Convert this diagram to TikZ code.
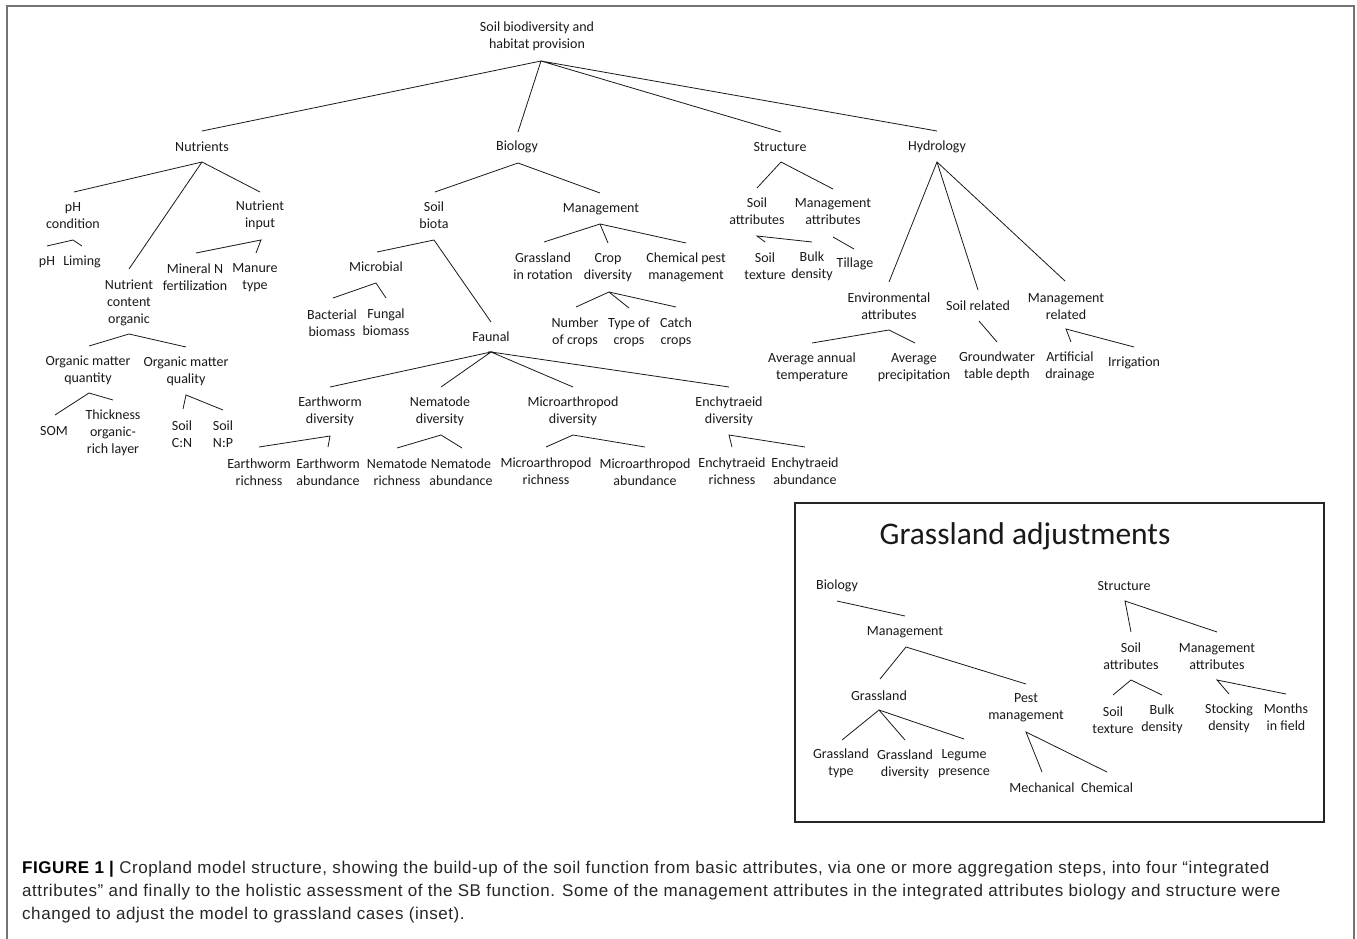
\documentclass[tikz,border=0pt]{standalone}
\usepackage{fontspec}
\setmainfont{Liberation Sans}
\newfontfamily\carlito{Carlito}
\newfontfamily\capfam{Liberation Sans}[LetterSpace=3.3]
\newcommand\lblfont{\carlito\fontsize{14}{17}\selectfont}
\newcommand\ttlfont{\carlito\fontsize{31.5}{36}\selectfont}
\newcommand\capfont{\capfam\fontsize{17}{23}\selectfont}
\tikzset{
  lbl/.style={font=\lblfont, align=center, inner sep=0pt, text=black!90},
  edge/.style={line width=0.8pt, black!90},
  capline/.style={font=\capfont, anchor=base west, inner sep=0pt, text=black!85}
}
\begin{document}
\begin{tikzpicture}[x=1pt,y=-1pt]
\useasboundingbox (0,0) rectangle (1357,939);
% outer frame
\draw[line width=1.5pt, black!55] (7,939) -- (7,6) -- (1354,6) -- (1354,939);

% ---------- level 0/1 ----------
\node[lbl] (root) at (537,36.5) {Soil biodiversity and\\habitat provision};
\coordinate (rootB) at (541,61);
\node[lbl] (nut) at (202,147) {Nutrients};
\node[lbl] (bio) at (517,147) {Biology};
\node[lbl] (str) at (780,147) {Structure};
\node[lbl] (hyd) at (937,147) {Hydrology};
\coordinate (nutT) at (202,131); \coordinate (nutB) at (202,162);
\coordinate (bioT) at (518,132); \coordinate (bioB) at (518,163);
\coordinate (strT) at (781,132); \coordinate (strB) at (781,162);
\coordinate (hydT) at (937,131); \coordinate (hydB) at (937,162);
\draw[edge] (nutT) -- (rootB) -- (bioT);
\draw[edge] (strT) -- (rootB) -- (hydT);

% ---------- Nutrients ----------
\node[lbl] (phc) at (73,215.5) {pH\\condition};
\node[lbl] (nin) at (260,215.5) {Nutrient\\input};
\node[lbl] (nco) at (129,302.5) {Nutrient\\content\\organic};
\coordinate (phcT) at (74,192); \coordinate (phcB) at (73,240);
\coordinate (ninT) at (260,192); \coordinate (ninB) at (261,240);
\coordinate (ncoT) at (129,269); \coordinate (ncoB) at (129,334);
\draw[edge] (phcT) -- (nutB) -- (ninT);
\draw[edge] (nutB) -- (ncoT);

\node[lbl] (ph) at (47,262) {pH};
\node[lbl] (lim) at (82,262) {Liming};
\coordinate (phT) at (47,246); \coordinate (limT) at (82,246);
\draw[edge] (phT) -- (phcB) -- (limT);

\node[lbl] (mnf) at (195,277.5) {Mineral N\\fertilization};
\node[lbl] (mty) at (255,277.5) {Manure\\type};
\coordinate (mnfT) at (196,253); \coordinate (mtyT) at (256,253);
\draw[edge] (mnfT) -- (ninB) -- (mtyT);

\node[lbl] (omn) at (88,370.5) {Organic matter\\quantity};
\node[lbl] (oml) at (186,371) {Organic matter\\quality};
\coordinate (omnT) at (89,346); \coordinate (omnB) at (89,393);
\coordinate (omlT) at (186,347); \coordinate (omlB) at (186,395);
\draw[edge] (omnT) -- (ncoB) -- (omlT);

\node[lbl] (som) at (54,431) {SOM};
\node[lbl] (thk) at (113,433) {Thickness\\organic-\\rich layer};
\coordinate (somT) at (55,415); \coordinate (thkT) at (113,400);
\draw[edge] (somT) -- (omnB) -- (thkT);

\node[lbl] (scn) at (182,434.5) {Soil\\C:N};
\node[lbl] (snp) at (223,434.5) {Soil\\N:P};
\coordinate (scnT) at (183,409); \coordinate (snpT) at (223,410);
\draw[edge] (scnT) -- (omlB) -- (snpT);

% ---------- Biology ----------
\node[lbl] (sbt) at (434,215.5) {Soil\\biota};
\node[lbl] (mgt) at (601,209) {Management};
\coordinate (sbtT) at (435,192); \coordinate (sbtB) at (434,240);
\coordinate (mgtT) at (600,193); \coordinate (mgtB) at (600,224);
\draw[edge] (sbtT) -- (bioB) -- (mgtT);

\node[lbl] (mic) at (376,267) {Microbial};
\node[lbl] (fau) at (491,337) {Faunal};
\coordinate (micT) at (377,252); \coordinate (micB) at (376,283);
\coordinate (fauT) at (491,322); \coordinate (fauB) at (491,352);
\draw[edge] (micT) -- (sbtB) -- (fauT);

\node[lbl] (bac) at (332,323.5) {Bacterial\\biomass};
\node[lbl] (fun) at (386,322.5) {Fungal\\biomass};
\coordinate (bacT) at (333,298); \coordinate (funT) at (386,298);
\draw[edge] (bacT) -- (micB) -- (funT);

\node[lbl] (ewd) at (330,411.5) {Earthworm\\diversity};
\node[lbl] (ned) at (440,411.5) {Nematode\\diversity};
\node[lbl] (mad) at (573,411.5) {Microarthropod\\diversity};
\node[lbl] (ecd) at (729,411.5) {Enchytraeid\\diversity};
\coordinate (ewdT) at (330,387); \coordinate (ewdB) at (330,436);
\coordinate (nedT) at (441,387); \coordinate (nedB) at (441,435);
\coordinate (madT) at (573,387); \coordinate (madB) at (573,435);
\coordinate (ecdT) at (729,387); \coordinate (ecdB) at (729,435);
\draw[edge] (ewdT) -- (fauB) -- (nedT);
\draw[edge] (madT) -- (fauB) -- (ecdT);

\node[lbl] (ewr) at (259,472.5) {Earthworm\\richness};
\node[lbl] (ewa) at (328,472.5) {Earthworm\\abundance};
\coordinate (ewrT) at (259,447); \coordinate (ewaT) at (328,447);
\draw[edge] (ewrT) -- (ewdB) -- (ewaT);

\node[lbl] (ner) at (397,472.5) {Nematode\\richness};
\node[lbl] (nea) at (461,472.5) {Nematode\\abundance};
\coordinate (nerT) at (397,448); \coordinate (neaT) at (462,448);
\draw[edge] (nerT) -- (nedB) -- (neaT);

\node[lbl] (mar) at (546,471.5) {Microarthropod\\richness};
\node[lbl] (maa) at (645,472) {Microarthropod\\abundance};
\coordinate (marT) at (546,447); \coordinate (maaT) at (645,447);
\draw[edge] (marT) -- (madB) -- (maaT);

\node[lbl] (ecr) at (732,471.5) {Enchytraeid\\richness};
\node[lbl] (eca) at (805,471.5) {Enchytraeid\\abundance};
\coordinate (ecrT) at (732,447); \coordinate (ecaT) at (805,447);
\draw[edge] (ecrT) -- (ecdB) -- (ecaT);

\node[lbl] (gir) at (543,266.5) {Grassland\\in rotation};
\node[lbl] (cdv) at (608,268) {Crop\\diversity};
\node[lbl] (cpm) at (686,267.5) {Chemical pest\\management};
\coordinate (girT) at (544,242); \coordinate (cdvT) at (608,243);
\coordinate (cpmT) at (686,243); \coordinate (cdvB) at (609,292);
\draw[edge] (girT) -- (mgtB) -- (cpmT);
\draw[edge] (mgtB) -- (cdvT);

\node[lbl] (noc) at (575,332.5) {Number\\of crops};
\node[lbl] (toc) at (629,332.5) {Type of\\crops};
\node[lbl] (cat) at (676,332.5) {Catch\\crops};
\coordinate (nocT) at (576,307); \coordinate (tocT) at (629,308);
\coordinate (catT) at (676,307);
\draw[edge] (nocT) -- (cdvB) -- (catT);
\draw[edge] (cdvB) -- (tocT);

% ---------- Structure ----------
\node[lbl] (sat) at (757,211.5) {Soil\\attributes};
\node[lbl] (mat) at (833,211.5) {Management\\attributes};
\coordinate (satT) at (757,188); \coordinate (satB) at (757,236);
\coordinate (matT) at (833,189); \coordinate (matB) at (833,237);
\draw[edge] (satT) -- (strB) -- (matT);

\node[lbl] (stx) at (765,266.5) {Soil\\texture};
\node[lbl] (bdn) at (812,266.5) {Bulk\\density};
\node[lbl] (til) at (855,264) {Tillage};
\coordinate (stxT) at (765,242); \coordinate (bdnT) at (812,242);
\coordinate (tilT) at (854,249);
\draw[edge] (stxT) -- (satB) -- (bdnT);
\draw[edge] (matB) -- (tilT);

% ---------- Hydrology ----------
\node[lbl] (env) at (889,306.5) {Environmental\\attributes};
\node[lbl] (srl) at (978,306) {Soil related};
\node[lbl] (mrl) at (1066,306.5) {Management\\related};
\coordinate (envT) at (889,282); \coordinate (envB) at (889,330);
\coordinate (srlT) at (978,290); \coordinate (srlB) at (979,321);
\coordinate (mrlT) at (1065,281); \coordinate (mrlB) at (1066,329);
\draw[edge] (envT) -- (hydB) -- (mrlT);
\draw[edge] (hydB) -- (srlT);

\node[lbl] (aat) at (812,367.5) {Average annual\\temperature};
\node[lbl] (apr) at (914,367.5) {Average\\precipitation};
\coordinate (aatT) at (812,343); \coordinate (aprT) at (915,343);
\draw[edge] (aatT) -- (envB) -- (aprT);

\node[lbl] (gwt) at (997,366.5) {Groundwater\\table depth};
\coordinate (gwtT) at (997,342);
\draw[edge] (srlB) -- (gwtT);

\node[lbl] (adr) at (1070,366.5) {Artificial\\drainage};
\node[lbl] (irr) at (1134,363) {Irrigation};
\coordinate (adrT) at (1071,342); \coordinate (irrT) at (1134,347);
\draw[edge] (adrT) -- (mrlB) -- (irrT);

% ---------- Inset ----------
\draw[line width=1.2pt, black!85] (795,503) rectangle (1324,822);
\node[font=\ttlfont, inner sep=0pt, text=black!90] (ttl) at (1025,536) {Grassland adjustments};

\node[lbl] (ibio) at (837,586) {Biology};
\node[lbl] (imgt) at (905,632) {Management};
\coordinate (ibioB) at (837,601); \coordinate (imgtT) at (905,616);
\coordinate (imgtB) at (906,647);
\draw[edge] (ibioB) -- (imgtT);

\node[lbl] (igr) at (879,696) {Grassland};
\node[lbl] (ipm) at (1026,707.5) {Pest\\management};
\coordinate (igrT) at (880,679); \coordinate (igrB) at (879,710);
\coordinate (ipmT) at (1026,684); \coordinate (ipmB) at (1026,732);
\draw[edge] (igrT) -- (imgtB) -- (ipmT);

\node[lbl] (igt) at (841,763.5) {Grassland\\type};
\node[lbl] (igd) at (905,764) {Grassland\\diversity};
\node[lbl] (ilp) at (964,763.5) {Legume\\presence};
\coordinate (igtT) at (842,740); \coordinate (igdT) at (905,740);
\coordinate (ilpT) at (964,739);
\draw[edge] (igtT) -- (igrB) -- (ilpT);
\draw[edge] (igrB) -- (igdT);

\node[lbl] (imech) at (1042,788) {Mechanical};
\node[lbl] (ichem) at (1107,788) {Chemical};
\coordinate (imechT) at (1042,772); \coordinate (ichemT) at (1107,772);
\draw[edge] (imechT) -- (ipmB) -- (ichemT);

\node[lbl] (istr) at (1124,586) {Structure};
\coordinate (istrB) at (1125,601);
\node[lbl] (isat) at (1131,656.5) {Soil\\attributes};
\node[lbl] (imat) at (1217,656.5) {Management\\attributes};
\coordinate (isatT) at (1131,632); \coordinate (isatB) at (1131,680);
\coordinate (imatT) at (1217,632); \coordinate (imatB) at (1217,680);
\draw[edge] (isatT) -- (istrB) -- (imatT);

\node[lbl] (istx) at (1113,720.5) {Soil\\texture};
\node[lbl] (ibdn) at (1162,719.5) {Bulk\\density};
\coordinate (istxT) at (1113,695); \coordinate (ibdnT) at (1162,695);
\draw[edge] (istxT) -- (isatB) -- (ibdnT);

\node[lbl] (istk) at (1229,718) {Stocking\\density};
\node[lbl] (imon) at (1286,717.5) {Months\\in field};
\coordinate (istkT) at (1229,694); \coordinate (imonT) at (1286,694);
\draw[edge] (istkT) -- (imatB) -- (imonT);

% ---------- Caption ----------
\node[capline] (cap1) at (22,873) {\textbf{\color{black}FIGURE 1 |} Cropland model structure, showing the build-up of the soil function from basic attributes, via one or more aggregation steps, into four “integrated};
\node[capline] (cap2) at (22,896) {attributes” and finally to the holistic assessment of the SB function. Some of the management attributes in the integrated attributes biology and structure were};
\node[capline] (cap3) at (22,919) {changed to adjust the model to grassland cases (inset).};
\end{tikzpicture}
\end{document}
